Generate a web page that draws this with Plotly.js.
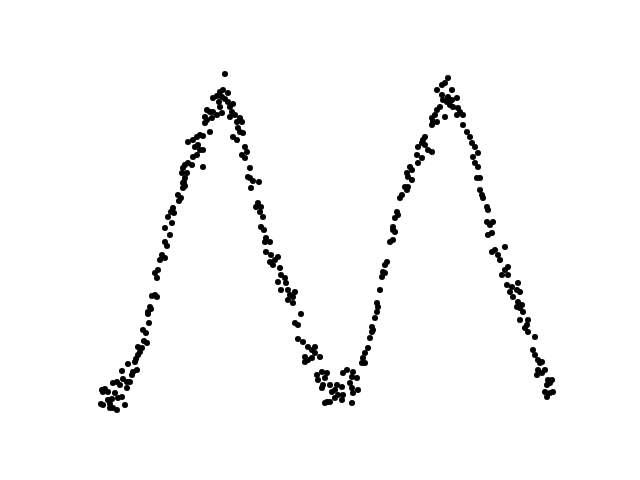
<!DOCTYPE html>
<html>
<head>
<meta charset="utf-8">
<script src="https://cdn.plot.ly/plotly-3.0.1.min.js"></script>
<style>html,body{margin:0;padding:0;background:#fff;}#chart{width:640px;height:480px;}</style>
</head>
<body>
<div id="chart"></div>
<script>
// Values (arbitrary units, y grows downward)
var xValues = [
  // first rise
  103,105,108,103,108,110,110,112,113,113,115,117,117,118,120,122,122,123,125,127,127,128,130,132,133,135,136,137,138,138,140,142,143,144,146,147,148,148,149,150,151,102,101,
  152,155,157,155,157,158,160,162,165,165,167,170,165,172,168,171,174,173,178,181,179,184,185,
  // first peak
  182,187,185,183,183,183,185,188,192,203,193,197,198,195,200,203,188,193,197,200,203,210,205,205,207,212,207,210,213,217,222,219,220,213,217,220,222,223,225,225,228,228,230,233,232,235,230,240,237,242,238,240,243,233,237,245,247,242,245,250,248,
  // descent
  250,253,259,251,258,256,261,260,263,261,264,266,270,265,266,271,278,275,270,273,280,281,285,278,286,281,288,295,
  290,293,288,293,301,295,298,298,303,308,305,308,305,
  // trough
  372,315,312,315,320,312,368,365,363,365,362,322,327,317,325,318,347,343,353,352,357,323,330,322,337,335,342,350,352,358,353,332,338,343,335,342,330,327,325,352,
  // second rise
  370,373,372,375,377,377,378,380,382,385,383,385,387,390,393,395,393,
  393,395,398,397,400,402,407,408,405,408,412,407,412,410,
  // second peak
  448,445,442,437,452,442,448,452,447,443,457,440,450,453,458,437,460,457,435,445,463,432,433,437,463,432,467,470,425,423,422,418,425,428,432,472,475,417,422,473,478,418,475,
  // final descent
  478,477,480,480,482,483,487,488,487,493,490,492,488,492,495,505,498,500,
  508,505,502,508,507,512,518,517,510,520,513,518,522,517,520,523,520,528,527,525,528,535,533,535,538,540,542,538,545,542,537,548,552,550,547,545,550,553,547
];
var yValues = [
  392,389,392,405,400,404,408,399,408,383,393,382,410,398,385,371,397,379,405,382,388,364,382,375,372,362,359,370,347,355,352,348,330,341,333,343,312,314,323,307,309,390,404,
  296,295,297,273,278,270,260,255,258,242,246,235,228,223,217,212,213,208,195,198,201,182,186,
  173,173,178,183,188,168,165,163,165,167,157,155,145,147,150,150,142,140,137,135,136,132,123,117,120,118,110,112,112,115,113,102,107,98,96,92,97,90,74,99,93,102,107,104,112,115,117,118,122,122,128,132,133,137,140,147,152,155,158,168,177,
  178,181,182,188,203,207,207,212,217,227,230,238,242,242,252,255,257,260,262,265,268,275,278,282,283,290,290,292,
  295,297,300,303,314,323,325,339,342,347,357,360,362,
  332,347,350,353,357,358,348,353,358,363,363,372,373,375,378,380,370,373,372,377,378,385,385,388,385,390,387,383,388,390,393,392,395,395,398,400,402,402,403,403,
  338,330,327,318,312,303,307,290,277,273,272,265,262,242,240,232,230,
  227,218,215,212,198,195,190,187,187,177,180,173,170,167,
  78,83,85,90,90,95,97,100,102,100,98,107,105,107,108,110,112,115,115,117,115,118,122,122,125,125,132,137,137,140,143,147,145,150,152,143,147,155,158,157,153,163,163,
  167,178,178,190,195,198,207,210,222,222,225,233,235,252,250,247,255,260,
  267,270,275,275,285,287,283,290,292,292,297,302,305,307,308,312,320,320,325,328,332,337,350,355,360,363,362,370,370,373,375,380,380,383,385,392,393,392,397
];

var trace = {
  x: xValues,
  y: yValues,
  type: 'scatter',
  mode: 'markers',
  marker: {color: '#000000', size: 6, line: {width: 0}},
  hoverinfo: 'skip'
};

var layout = {
  width: 640,
  height: 480,
  margin: {l: 80, r: 64, t: 58, b: 53, pad: 0},
  paper_bgcolor: '#ffffff',
  plot_bgcolor: '#ffffff',
  showlegend: false,
  xaxis: {range: [80, 576], visible: false, showgrid: false, zeroline: false},
  yaxis: {range: [427, 58], visible: false, showgrid: false, zeroline: false}
};

Plotly.newPlot('chart', [trace], layout, {displayModeBar: false, staticPlot: true});
</script>
</body>
</html>
